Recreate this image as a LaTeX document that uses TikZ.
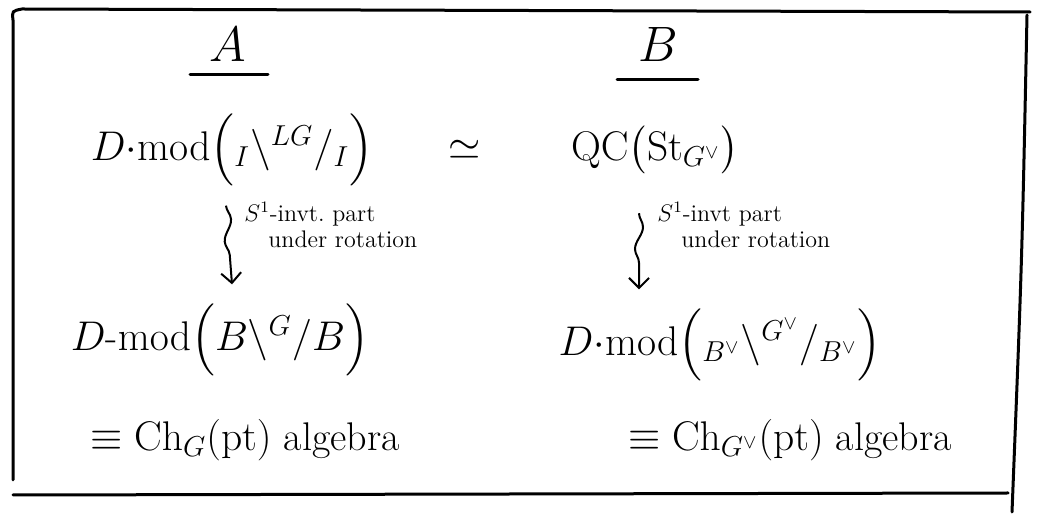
\documentclass[tikz,border=0pt]{standalone}
\usepackage{amsmath, amssymb}
\usetikzlibrary{positioning, arrows.meta, decorations.pathmorphing}

\begin{document}
\begin{tikzpicture}[x=0.5pt, y=-0.5pt,
  frame/.style={line width=1.5pt, line cap=round},
  head/.style={font=\fontsize{28}{30}\selectfont},
  term/.style={font=\fontsize{20}{24}\selectfont, inner sep=2pt},
  note/.style={font=\fontsize{12}{13}\selectfont, align=left, inner sep=1pt},
  squig/.style={-{Straight Barb[length=5pt]}, line width=1pt, decorate,
                decoration={snake, amplitude=2pt, segment length=22pt, post length=8pt}}
]
  \useasboundingbox (0,0) rectangle (1039,517);
  % frame
  \draw[frame] (13,480) -- (13,20) .. controls (12,11) .. (22,9) -- (1030,12);
  \draw[frame] (1027,15) .. controls (1022,260) .. (1012,512);
  \draw[frame] (13,495) -- (1008,493);

  % column heads
  \node[head] (hA) at (228,45) {$A$};
  \node[head] (hB) at (658,45) {$B$};
  \draw[frame] (190,75) -- (268,75);
  \draw[frame] (617,80) -- (698,80);

  % top row
  \node[term] (lhsTop) at (232,150) {$D{\cdot}\mathrm{mod}\Bigl({}_{I}\backslash^{LG}/_{I}\Bigr)$};
  \node[term] (equiv) at (465,150) {$\simeq$};
  \node[term] (rhsTop) at (655,150) {$\mathrm{QC}\bigl(\mathrm{St}_{G^\vee}\bigr)$};

  % bottom row
  \node[term] (lhsBot) at (220,340) {$D\text{-}\mathrm{mod}\Bigl(B\backslash^{G}/B\Bigr)$};
  \node[term] (lhsAlg) at (245,440) {$\equiv \mathrm{Ch}_G(\mathrm{pt})$ algebra};
  \node[term] (rhsBot) at (720,345) {$D{\cdot}\mathrm{mod}\Bigl({}_{B^\vee}\backslash^{G^\vee}/_{B^\vee}\Bigr)$};
  \node[term] (rhsAlg) at (790,440) {$\equiv \mathrm{Ch}_{G^\vee}(\mathrm{pt})$ algebra};

  % vertical maps
  \draw[squig] ([xshift=-3pt, yshift=-7pt]lhsTop.south) -- ([xshift=6pt, yshift=7pt]lhsBot.north);
  \draw[squig] ([xshift=-8pt, yshift=-17pt]rhsTop.south) -- ([xshift=-8pt, yshift=7pt]rhsTop.south |- rhsBot.north);
  \node[note, anchor=north west] (noteL) at (242,200) {$S^1$-invt.\ part\\\quad under rotation};
  \node[note, anchor=north west] (noteR) at (655,200) {$S^1$-invt part\\\quad under rotation};
\end{tikzpicture}
\end{document}
